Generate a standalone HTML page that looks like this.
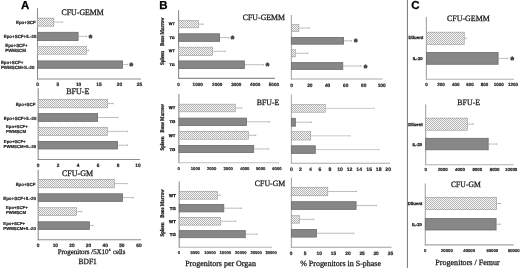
<!DOCTYPE html>
<html><head><meta charset="utf-8"><title>Figure</title>
<style>
html,body{margin:0;padding:0;background:#fff}
svg{display:block}
</style></head>
<body>
<svg width="520" height="268" viewBox="0 0 520 268" text-rendering="geometricPrecision">
<defs>
<filter id="soft" x="0" y="0" width="520" height="268" filterUnits="userSpaceOnUse"><feGaussianBlur stdDeviation="0.35"/></filter>
</defs>
<rect width="520" height="268" fill="#fff"/>
<g filter="url(#soft)">
<text x="25.25" y="9.3" font-family="Liberation Sans,sans-serif" font-size="11.5" font-weight="bold" text-anchor="middle" fill="#000" stroke="#000" stroke-width="0.25">A</text>
<text x="61.5" y="15" textLength="42.30" lengthAdjust="spacingAndGlyphs" font-family="Liberation Serif,serif" font-size="8.3" fill="#1a1a1a" stroke="#1a1a1a" stroke-width="0.27">CFU-GEMM</text>
<path d="M37.5 8.2V79.55" stroke="#8e8e8e" stroke-width="1.1" fill="none"/>
<path d="M36.95 79.0H141" stroke="#8e8e8e" stroke-width="1.1" fill="none"/>
<path d="M54.1 22.1H62.4M62.4 21.30V22.90" stroke="#8a8a8a" stroke-width="0.55" fill="none"/>
<rect x="37.5" y="18.05" width="16.35" height="8.10" fill="#f8f8f8"/>
<rect x="37.5" y="18.05" width="16.35" height="8.10" fill="none" stroke="#a2a2a2" stroke-width="0.6"/>
<path d="M78.5 36.4H86.5M86.5 35.60V37.20" stroke="#8a8a8a" stroke-width="0.55" fill="none"/>
<rect x="37.5" y="32.32" width="40.58" height="8.16" fill="#878787" stroke="#6e6e6e" stroke-width="0.84"/>
<text x="90.6" y="41.00" font-family="Liberation Sans,sans-serif" font-size="9" font-weight="bold" text-anchor="middle" fill="#484848" stroke="#484848" stroke-width="0.75" stroke-linejoin="round">*</text>
<path d="M86.9 50.4H88.6M88.6 49.60V51.20" stroke="#8a8a8a" stroke-width="0.55" fill="none"/>
<rect x="37.5" y="46.55" width="49.15" height="7.70" fill="#f8f8f8"/>
<rect x="37.5" y="46.55" width="49.15" height="7.70" fill="none" stroke="#a2a2a2" stroke-width="0.6"/>
<path d="M122.9 64.6H127.3M127.3 63.80V65.40" stroke="#8a8a8a" stroke-width="0.55" fill="none"/>
<rect x="37.5" y="60.92" width="84.98" height="7.36" fill="#878787" stroke="#6e6e6e" stroke-width="0.84"/>
<text x="131.3" y="69.20" font-family="Liberation Sans,sans-serif" font-size="9" font-weight="bold" text-anchor="middle" fill="#484848" stroke="#484848" stroke-width="0.75" stroke-linejoin="round">*</text>
<text x="37.6" y="86.03" font-family="Liberation Sans,sans-serif" font-size="4.8" font-weight="bold" text-anchor="middle" fill="#1a1a1a" stroke="#1a1a1a" stroke-width="0.18">0</text>
<text x="57.9" y="86.03" font-family="Liberation Sans,sans-serif" font-size="4.8" font-weight="bold" text-anchor="middle" fill="#1a1a1a" stroke="#1a1a1a" stroke-width="0.18">5</text>
<text x="78.6" y="86.03" font-family="Liberation Sans,sans-serif" font-size="4.8" font-weight="bold" text-anchor="middle" fill="#1a1a1a" stroke="#1a1a1a" stroke-width="0.18">10</text>
<text x="99" y="86.03" font-family="Liberation Sans,sans-serif" font-size="4.8" font-weight="bold" text-anchor="middle" fill="#1a1a1a" stroke="#1a1a1a" stroke-width="0.18">15</text>
<text x="119.5" y="86.03" font-family="Liberation Sans,sans-serif" font-size="4.8" font-weight="bold" text-anchor="middle" fill="#1a1a1a" stroke="#1a1a1a" stroke-width="0.18">20</text>
<text x="139.5" y="86.03" font-family="Liberation Sans,sans-serif" font-size="4.8" font-weight="bold" text-anchor="middle" fill="#1a1a1a" stroke="#1a1a1a" stroke-width="0.18">25</text>
<text x="35.8" y="23.80" font-family="Liberation Sans,sans-serif" font-size="4.45" font-weight="bold" text-anchor="end" fill="#1a1a1a" stroke="#1a1a1a" stroke-width="0.18">Epo+SCF</text>
<text x="36.5" y="38.10" font-family="Liberation Sans,sans-serif" font-size="4.45" font-weight="bold" text-anchor="end" fill="#1a1a1a" stroke="#1a1a1a" stroke-width="0.18">Epo+SCF+IL-20</text>
<text x="5.2" y="46.80" font-family="Liberation Sans,sans-serif" font-size="4.45" font-weight="bold" fill="#1a1a1a" stroke="#1a1a1a" stroke-width="0.18">Epo+SCF+</text>
<text x="5.2" y="51.80" font-family="Liberation Sans,sans-serif" font-size="4.45" font-weight="bold" fill="#1a1a1a" stroke="#1a1a1a" stroke-width="0.18">PWMSCM</text>
<text x="0.9" y="64.00" font-family="Liberation Sans,sans-serif" font-size="4.45" font-weight="bold" fill="#1a1a1a" stroke="#1a1a1a" stroke-width="0.18">Epo+SCF+</text>
<text x="0.9" y="68.70" font-family="Liberation Sans,sans-serif" font-size="4.45" font-weight="bold" fill="#1a1a1a" stroke="#1a1a1a" stroke-width="0.18">PWMSCM+IL-20</text>
<text x="66.2" y="94.2" textLength="23.30" lengthAdjust="spacingAndGlyphs" font-family="Liberation Serif,serif" font-size="8.3" fill="#1a1a1a" stroke="#1a1a1a" stroke-width="0.27">BFU-E</text>
<path d="M38.2 88.2V160.05" stroke="#8e8e8e" stroke-width="1.1" fill="none"/>
<path d="M37.650000000000006 159.5H140" stroke="#8e8e8e" stroke-width="1.1" fill="none"/>
<path d="M107.8 103.55H113M113 102.75V104.35" stroke="#8a8a8a" stroke-width="0.55" fill="none"/>
<rect x="38.2" y="99.25" width="69.35" height="8.60" fill="#f8f8f8"/>
<rect x="38.2" y="99.25" width="69.35" height="8.60" fill="none" stroke="#a2a2a2" stroke-width="0.6"/>
<path d="M98 117.5H117.9M117.9 116.70V118.30" stroke="#8a8a8a" stroke-width="0.55" fill="none"/>
<rect x="38.2" y="113.62" width="59.38" height="7.76" fill="#878787" stroke="#6e6e6e" stroke-width="0.84"/>
<path d="M107.8 131.4H127.4M127.4 130.60V132.20" stroke="#8a8a8a" stroke-width="0.55" fill="none"/>
<rect x="38.2" y="127.25" width="69.35" height="8.30" fill="#f8f8f8"/>
<rect x="38.2" y="127.25" width="69.35" height="8.30" fill="none" stroke="#a2a2a2" stroke-width="0.6"/>
<path d="M117.9 145.2H127.4M127.4 144.40V146.00" stroke="#8a8a8a" stroke-width="0.55" fill="none"/>
<rect x="38.2" y="141.42" width="79.28" height="7.56" fill="#878787" stroke="#6e6e6e" stroke-width="0.84"/>
<text x="38" y="166.53" font-family="Liberation Sans,sans-serif" font-size="4.8" font-weight="bold" text-anchor="middle" fill="#1a1a1a" stroke="#1a1a1a" stroke-width="0.18">0</text>
<text x="58.1" y="166.53" font-family="Liberation Sans,sans-serif" font-size="4.8" font-weight="bold" text-anchor="middle" fill="#1a1a1a" stroke="#1a1a1a" stroke-width="0.18">2</text>
<text x="78" y="166.53" font-family="Liberation Sans,sans-serif" font-size="4.8" font-weight="bold" text-anchor="middle" fill="#1a1a1a" stroke="#1a1a1a" stroke-width="0.18">4</text>
<text x="98" y="166.53" font-family="Liberation Sans,sans-serif" font-size="4.8" font-weight="bold" text-anchor="middle" fill="#1a1a1a" stroke="#1a1a1a" stroke-width="0.18">6</text>
<text x="118" y="166.53" font-family="Liberation Sans,sans-serif" font-size="4.8" font-weight="bold" text-anchor="middle" fill="#1a1a1a" stroke="#1a1a1a" stroke-width="0.18">8</text>
<text x="138" y="166.53" font-family="Liberation Sans,sans-serif" font-size="4.8" font-weight="bold" text-anchor="middle" fill="#1a1a1a" stroke="#1a1a1a" stroke-width="0.18">10</text>
<text x="35.5" y="105.60" font-family="Liberation Sans,sans-serif" font-size="4.45" font-weight="bold" text-anchor="end" fill="#1a1a1a" stroke="#1a1a1a" stroke-width="0.18">Epo+SCF</text>
<text x="36.5" y="119.50" font-family="Liberation Sans,sans-serif" font-size="4.45" font-weight="bold" text-anchor="end" fill="#1a1a1a" stroke="#1a1a1a" stroke-width="0.18">Epo+SCF+IL-20</text>
<text x="6" y="128.35" font-family="Liberation Sans,sans-serif" font-size="4.3" font-weight="bold" fill="#1a1a1a" stroke="#1a1a1a" stroke-width="0.18">Epo+SCF+</text>
<text x="6" y="132.95" font-family="Liberation Sans,sans-serif" font-size="4.3" font-weight="bold" fill="#1a1a1a" stroke="#1a1a1a" stroke-width="0.18">PWMSCM</text>
<text x="3.8" y="143.05" font-family="Liberation Sans,sans-serif" font-size="4.3" font-weight="bold" fill="#1a1a1a" stroke="#1a1a1a" stroke-width="0.18">Epo+SCF+</text>
<text x="3.6" y="147.85" font-family="Liberation Sans,sans-serif" font-size="4.3" font-weight="bold" fill="#1a1a1a" stroke="#1a1a1a" stroke-width="0.18">PWMSCM+IL-20</text>
<text x="62" y="176.1" textLength="31.00" lengthAdjust="spacingAndGlyphs" font-family="Liberation Serif,serif" font-size="8.3" fill="#1a1a1a" stroke="#1a1a1a" stroke-width="0.27">CFU-GM</text>
<path d="M38.2 169.8V240.35000000000002" stroke="#8e8e8e" stroke-width="1.1" fill="none"/>
<path d="M37.650000000000006 239.8H141" stroke="#8e8e8e" stroke-width="1.1" fill="none"/>
<path d="M114.8 183.6H127.1M127.1 182.80V184.40" stroke="#8a8a8a" stroke-width="0.55" fill="none"/>
<rect x="38.2" y="179.35" width="76.35" height="8.50" fill="#f8f8f8"/>
<rect x="38.2" y="179.35" width="76.35" height="8.50" fill="none" stroke="#a2a2a2" stroke-width="0.6"/>
<path d="M122.9 197.60000000000002H133.3M133.3 196.80V198.40" stroke="#8a8a8a" stroke-width="0.55" fill="none"/>
<rect x="38.2" y="193.82" width="84.28" height="7.56" fill="#878787" stroke="#6e6e6e" stroke-width="0.84"/>
<path d="M76.9 211.60000000000002H81.9M81.9 210.80V212.40" stroke="#8a8a8a" stroke-width="0.55" fill="none"/>
<rect x="38.2" y="207.65" width="38.45" height="7.90" fill="#f8f8f8"/>
<rect x="38.2" y="207.65" width="38.45" height="7.90" fill="none" stroke="#a2a2a2" stroke-width="0.6"/>
<path d="M89.8 225.60000000000002H93.1M93.1 224.80V226.40" stroke="#8a8a8a" stroke-width="0.55" fill="none"/>
<rect x="38.2" y="221.82" width="51.18" height="7.56" fill="#878787" stroke="#6e6e6e" stroke-width="0.84"/>
<text x="38.1" y="246.73" font-family="Liberation Sans,sans-serif" font-size="4.8" font-weight="bold" text-anchor="middle" fill="#1a1a1a" stroke="#1a1a1a" stroke-width="0.18">0</text>
<text x="55.3" y="246.73" font-family="Liberation Sans,sans-serif" font-size="4.8" font-weight="bold" text-anchor="middle" fill="#1a1a1a" stroke="#1a1a1a" stroke-width="0.18">10</text>
<text x="72" y="246.73" font-family="Liberation Sans,sans-serif" font-size="4.8" font-weight="bold" text-anchor="middle" fill="#1a1a1a" stroke="#1a1a1a" stroke-width="0.18">20</text>
<text x="88.5" y="246.73" font-family="Liberation Sans,sans-serif" font-size="4.8" font-weight="bold" text-anchor="middle" fill="#1a1a1a" stroke="#1a1a1a" stroke-width="0.18">30</text>
<text x="105.2" y="246.73" font-family="Liberation Sans,sans-serif" font-size="4.8" font-weight="bold" text-anchor="middle" fill="#1a1a1a" stroke="#1a1a1a" stroke-width="0.18">40</text>
<text x="121.8" y="246.73" font-family="Liberation Sans,sans-serif" font-size="4.8" font-weight="bold" text-anchor="middle" fill="#1a1a1a" stroke="#1a1a1a" stroke-width="0.18">50</text>
<text x="139" y="246.73" font-family="Liberation Sans,sans-serif" font-size="4.8" font-weight="bold" text-anchor="middle" fill="#1a1a1a" stroke="#1a1a1a" stroke-width="0.18">60</text>
<text x="35.5" y="185.60" font-family="Liberation Sans,sans-serif" font-size="4.45" font-weight="bold" text-anchor="end" fill="#1a1a1a" stroke="#1a1a1a" stroke-width="0.18">Epo+SCF</text>
<text x="36" y="199.60" font-family="Liberation Sans,sans-serif" font-size="4.45" font-weight="bold" text-anchor="end" fill="#1a1a1a" stroke="#1a1a1a" stroke-width="0.18">Epo+SCF+IL-20</text>
<text x="6" y="208.55" font-family="Liberation Sans,sans-serif" font-size="4.3" font-weight="bold" fill="#1a1a1a" stroke="#1a1a1a" stroke-width="0.18">Epo+SCF+</text>
<text x="6" y="213.65" font-family="Liberation Sans,sans-serif" font-size="4.3" font-weight="bold" fill="#1a1a1a" stroke="#1a1a1a" stroke-width="0.18">PWMSCM</text>
<text x="3.3" y="224.65" font-family="Liberation Sans,sans-serif" font-size="4.3" font-weight="bold" fill="#1a1a1a" stroke="#1a1a1a" stroke-width="0.18">Epo+SCF+</text>
<text x="3.3" y="229.55" font-family="Liberation Sans,sans-serif" font-size="4.3" font-weight="bold" fill="#1a1a1a" stroke="#1a1a1a" stroke-width="0.18">PWMSCM+IL-20</text>
<text x="57.7" y="254.2" textLength="50.80" lengthAdjust="spacingAndGlyphs" font-family="Liberation Serif,serif" font-size="7" fill="#1a1a1a" stroke="#1a1a1a" stroke-width="0.27">Progenitors /5X10</text>
<text x="108.8" y="251.4" textLength="1.70" lengthAdjust="spacingAndGlyphs" font-family="Liberation Serif,serif" font-size="3.6" fill="#1a1a1a" stroke="#1a1a1a" stroke-width="0.27">4</text>
<text x="113" y="254.2" textLength="12.30" lengthAdjust="spacingAndGlyphs" font-family="Liberation Serif,serif" font-size="7" fill="#1a1a1a" stroke="#1a1a1a" stroke-width="0.27">cells</text>
<text x="78.6" y="263.6" textLength="18.20" lengthAdjust="spacingAndGlyphs" font-family="Liberation Serif,serif" font-size="8" fill="#1a1a1a" stroke="#1a1a1a" stroke-width="0.27">BDF1</text>
<text x="163.4" y="8.5" font-family="Liberation Sans,sans-serif" font-size="11.5" font-weight="bold" text-anchor="middle" fill="#000" stroke="#000" stroke-width="0.25">B</text>
<text x="242.8" y="20" textLength="42.20" lengthAdjust="spacingAndGlyphs" font-family="Liberation Serif,serif" font-size="8.2" fill="#1a1a1a" stroke="#1a1a1a" stroke-width="0.27">CFU-GEMM</text>
<path d="M178.6 10.3V78.95" stroke="#8e8e8e" stroke-width="1.1" fill="none"/>
<path d="M178.04999999999998 78.4H275" stroke="#8e8e8e" stroke-width="1.1" fill="none"/>
<path d="M198.6 24.200000000000003H203M203 23.40V25.00" stroke="#8a8a8a" stroke-width="0.55" fill="none"/>
<rect x="178.6" y="20.55" width="19.75" height="7.30" fill="#f8f8f8"/>
<rect x="178.6" y="20.55" width="19.75" height="7.30" fill="none" stroke="#a2a2a2" stroke-width="0.6"/>
<path d="M220 37.599999999999994H228.6M228.6 36.80V38.40" stroke="#8a8a8a" stroke-width="0.55" fill="none"/>
<rect x="178.6" y="33.82" width="40.98" height="7.56" fill="#878787" stroke="#6e6e6e" stroke-width="0.84"/>
<text x="232.6" y="42.20" font-family="Liberation Sans,sans-serif" font-size="9" font-weight="bold" text-anchor="middle" fill="#484848" stroke="#484848" stroke-width="0.75" stroke-linejoin="round">*</text>
<path d="M212.9 51.3H225.4M225.4 50.50V52.10" stroke="#8a8a8a" stroke-width="0.55" fill="none"/>
<rect x="178.6" y="47.15" width="34.05" height="8.30" fill="#f8f8f8"/>
<rect x="178.6" y="47.15" width="34.05" height="8.30" fill="none" stroke="#a2a2a2" stroke-width="0.6"/>
<path d="M244.8 64.7H263.4M263.4 63.90V65.50" stroke="#8a8a8a" stroke-width="0.55" fill="none"/>
<rect x="178.6" y="60.92" width="65.78" height="7.56" fill="#878787" stroke="#6e6e6e" stroke-width="0.84"/>
<text x="267.4" y="69.30" font-family="Liberation Sans,sans-serif" font-size="9" font-weight="bold" text-anchor="middle" fill="#484848" stroke="#484848" stroke-width="0.75" stroke-linejoin="round">*</text>
<text x="178.5" y="86.16" font-family="Liberation Sans,sans-serif" font-size="4.6" font-weight="bold" text-anchor="middle" fill="#1a1a1a" stroke="#1a1a1a" stroke-width="0.18">0</text>
<text x="197.7" y="86.16" font-family="Liberation Sans,sans-serif" font-size="4.6" font-weight="bold" text-anchor="middle" fill="#1a1a1a" stroke="#1a1a1a" stroke-width="0.18">1000</text>
<text x="217.2" y="86.16" font-family="Liberation Sans,sans-serif" font-size="4.6" font-weight="bold" text-anchor="middle" fill="#1a1a1a" stroke="#1a1a1a" stroke-width="0.18">2000</text>
<text x="236.3" y="86.16" font-family="Liberation Sans,sans-serif" font-size="4.6" font-weight="bold" text-anchor="middle" fill="#1a1a1a" stroke="#1a1a1a" stroke-width="0.18">3000</text>
<text x="255.2" y="86.16" font-family="Liberation Sans,sans-serif" font-size="4.6" font-weight="bold" text-anchor="middle" fill="#1a1a1a" stroke="#1a1a1a" stroke-width="0.18">4000</text>
<text x="273.9" y="86.16" font-family="Liberation Sans,sans-serif" font-size="4.6" font-weight="bold" text-anchor="middle" fill="#1a1a1a" stroke="#1a1a1a" stroke-width="0.18">5000</text>
<text x="174.7" y="25.35" font-family="Liberation Sans,sans-serif" font-size="3.75" font-weight="bold" text-anchor="end" fill="#1a1a1a" stroke="#1a1a1a" stroke-width="0.3">WT</text>
<text x="174.7" y="39.05" font-family="Liberation Sans,sans-serif" font-size="3.75" font-weight="bold" text-anchor="end" fill="#1a1a1a" stroke="#1a1a1a" stroke-width="0.3">TG</text>
<text x="174.7" y="52.15" font-family="Liberation Sans,sans-serif" font-size="3.75" font-weight="bold" text-anchor="end" fill="#1a1a1a" stroke="#1a1a1a" stroke-width="0.3">WT</text>
<text x="174.7" y="65.95" font-family="Liberation Sans,sans-serif" font-size="3.75" font-weight="bold" text-anchor="end" fill="#1a1a1a" stroke="#1a1a1a" stroke-width="0.3">TG</text>
<text transform="translate(163.98 46.05) rotate(-90)" textLength="28.5" lengthAdjust="spacingAndGlyphs" font-family="Liberation Serif,serif" font-size="5.7" font-weight="bold" fill="#1a1a1a" stroke="#1a1a1a" stroke-width="0.28">Bone Marrow</text>
<text transform="translate(163.98 65.00) rotate(-90)" textLength="14" lengthAdjust="spacingAndGlyphs" font-family="Liberation Serif,serif" font-size="5.7" font-weight="bold" fill="#1a1a1a" stroke="#1a1a1a" stroke-width="0.28">Spleen</text>
<text x="256.7" y="104.5" textLength="22.60" lengthAdjust="spacingAndGlyphs" font-family="Liberation Serif,serif" font-size="8.2" fill="#1a1a1a" stroke="#1a1a1a" stroke-width="0.27">BFU-E</text>
<path d="M178.9 93.9V163.35000000000002" stroke="#8e8e8e" stroke-width="1.1" fill="none"/>
<path d="M178.35 162.8H279" stroke="#c4c4c4" stroke-width="1.1" fill="none"/>
<path d="M235.6 108.0H241.8M241.8 107.20V108.80" stroke="#8a8a8a" stroke-width="0.55" fill="none"/>
<rect x="178.9" y="104.15" width="56.45" height="7.70" fill="#f8f8f8"/>
<rect x="178.9" y="104.15" width="56.45" height="7.70" fill="none" stroke="#a2a2a2" stroke-width="0.6"/>
<path d="M246.9 121.80000000000001H269.5M269.5 121.00V122.60" stroke="#8a8a8a" stroke-width="0.55" fill="none"/>
<rect x="178.9" y="118.12" width="67.58" height="7.36" fill="#878787" stroke="#6e6e6e" stroke-width="0.84"/>
<path d="M248.6 135.3H255.8M255.8 134.50V136.10" stroke="#8a8a8a" stroke-width="0.55" fill="none"/>
<rect x="178.9" y="131.35" width="69.45" height="7.90" fill="#f8f8f8"/>
<rect x="178.9" y="131.35" width="69.45" height="7.90" fill="none" stroke="#a2a2a2" stroke-width="0.6"/>
<path d="M254.1 148.95H268.7M268.7 148.15V149.75" stroke="#8a8a8a" stroke-width="0.55" fill="none"/>
<rect x="178.9" y="145.42" width="74.78" height="7.06" fill="#878787" stroke="#6e6e6e" stroke-width="0.84"/>
<text x="178.7" y="170.01" font-family="Liberation Sans,sans-serif" font-size="4.2" font-weight="bold" text-anchor="middle" fill="#1a1a1a" stroke="#1a1a1a" stroke-width="0.18">0</text>
<text x="195.4" y="170.01" font-family="Liberation Sans,sans-serif" font-size="4.2" font-weight="bold" text-anchor="middle" fill="#1a1a1a" stroke="#1a1a1a" stroke-width="0.18">1000</text>
<text x="211.6" y="170.01" font-family="Liberation Sans,sans-serif" font-size="4.2" font-weight="bold" text-anchor="middle" fill="#1a1a1a" stroke="#1a1a1a" stroke-width="0.18">2000</text>
<text x="228.2" y="170.01" font-family="Liberation Sans,sans-serif" font-size="4.2" font-weight="bold" text-anchor="middle" fill="#1a1a1a" stroke="#1a1a1a" stroke-width="0.18">3000</text>
<text x="244.8" y="170.01" font-family="Liberation Sans,sans-serif" font-size="4.2" font-weight="bold" text-anchor="middle" fill="#1a1a1a" stroke="#1a1a1a" stroke-width="0.18">4000</text>
<text x="260.7" y="170.01" font-family="Liberation Sans,sans-serif" font-size="4.2" font-weight="bold" text-anchor="middle" fill="#1a1a1a" stroke="#1a1a1a" stroke-width="0.18">5000</text>
<text x="276.9" y="170.01" font-family="Liberation Sans,sans-serif" font-size="4.2" font-weight="bold" text-anchor="middle" fill="#1a1a1a" stroke="#1a1a1a" stroke-width="0.18">6000</text>
<text x="175.3" y="109.41" font-family="Liberation Sans,sans-serif" font-size="4.2" font-weight="bold" text-anchor="end" fill="#1a1a1a" stroke="#1a1a1a" stroke-width="0.3">WT</text>
<text x="175.3" y="123.21" font-family="Liberation Sans,sans-serif" font-size="4.2" font-weight="bold" text-anchor="end" fill="#1a1a1a" stroke="#1a1a1a" stroke-width="0.3">TG</text>
<text x="175.3" y="136.61" font-family="Liberation Sans,sans-serif" font-size="4.2" font-weight="bold" text-anchor="end" fill="#1a1a1a" stroke="#1a1a1a" stroke-width="0.3">WT</text>
<text x="175.3" y="150.51" font-family="Liberation Sans,sans-serif" font-size="4.2" font-weight="bold" text-anchor="end" fill="#1a1a1a" stroke="#1a1a1a" stroke-width="0.3">TG</text>
<text transform="translate(163.98 132.45) rotate(-90)" textLength="28.5" lengthAdjust="spacingAndGlyphs" font-family="Liberation Serif,serif" font-size="5.7" font-weight="bold" fill="#1a1a1a" stroke="#1a1a1a" stroke-width="0.28">Bone Marrow</text>
<text transform="translate(163.98 150.60) rotate(-90)" textLength="14" lengthAdjust="spacingAndGlyphs" font-family="Liberation Serif,serif" font-size="5.7" font-weight="bold" fill="#1a1a1a" stroke="#1a1a1a" stroke-width="0.28">Spleen</text>
<text x="254.8" y="186.2" textLength="30.50" lengthAdjust="spacingAndGlyphs" font-family="Liberation Serif,serif" font-size="8.2" fill="#1a1a1a" stroke="#1a1a1a" stroke-width="0.27">CFU-GM</text>
<path d="M179.2 181.4V247.85000000000002" stroke="#8e8e8e" stroke-width="1.1" fill="none"/>
<path d="M178.64999999999998 247.3H272" stroke="#b4b4b4" stroke-width="1.1" fill="none"/>
<path d="M217.7 195.2H220.3M220.3 194.40V196.00" stroke="#8a8a8a" stroke-width="0.55" fill="none"/>
<rect x="179.2" y="191.25" width="38.25" height="7.90" fill="#f8f8f8"/>
<rect x="179.2" y="191.25" width="38.25" height="7.90" fill="none" stroke="#a2a2a2" stroke-width="0.6"/>
<path d="M224.2 208.2H241.4M241.4 207.40V209.00" stroke="#8a8a8a" stroke-width="0.55" fill="none"/>
<rect x="179.2" y="204.52" width="44.58" height="7.36" fill="#878787" stroke="#6e6e6e" stroke-width="0.84"/>
<path d="M220.8 221.25H235.7M235.7 220.45V222.05" stroke="#8a8a8a" stroke-width="0.55" fill="none"/>
<rect x="179.2" y="217.35" width="41.35" height="7.80" fill="#f8f8f8"/>
<rect x="179.2" y="217.35" width="41.35" height="7.80" fill="none" stroke="#a2a2a2" stroke-width="0.6"/>
<path d="M245.7 234.14999999999998H257M257 233.35V234.95" stroke="#8a8a8a" stroke-width="0.55" fill="none"/>
<rect x="179.2" y="230.62" width="66.08" height="7.06" fill="#878787" stroke="#6e6e6e" stroke-width="0.84"/>
<text x="178.8" y="253.88" font-family="Liberation Sans,sans-serif" font-size="4.1" font-weight="bold" text-anchor="middle" fill="#1a1a1a" stroke="#1a1a1a" stroke-width="0.18">0</text>
<text x="195" y="253.88" font-family="Liberation Sans,sans-serif" font-size="4.1" font-weight="bold" text-anchor="middle" fill="#1a1a1a" stroke="#1a1a1a" stroke-width="0.18">5000</text>
<text x="210" y="253.88" font-family="Liberation Sans,sans-serif" font-size="4.1" font-weight="bold" text-anchor="middle" fill="#1a1a1a" stroke="#1a1a1a" stroke-width="0.18">10000</text>
<text x="225.3" y="253.88" font-family="Liberation Sans,sans-serif" font-size="4.1" font-weight="bold" text-anchor="middle" fill="#1a1a1a" stroke="#1a1a1a" stroke-width="0.18">15000</text>
<text x="240.8" y="253.88" font-family="Liberation Sans,sans-serif" font-size="4.1" font-weight="bold" text-anchor="middle" fill="#1a1a1a" stroke="#1a1a1a" stroke-width="0.18">20000</text>
<text x="256.2" y="253.88" font-family="Liberation Sans,sans-serif" font-size="4.1" font-weight="bold" text-anchor="middle" fill="#1a1a1a" stroke="#1a1a1a" stroke-width="0.18">25000</text>
<text x="271.2" y="253.88" font-family="Liberation Sans,sans-serif" font-size="4.1" font-weight="bold" text-anchor="middle" fill="#1a1a1a" stroke="#1a1a1a" stroke-width="0.18">30000</text>
<text x="175.8" y="196.65" font-family="Liberation Sans,sans-serif" font-size="4.3" font-weight="bold" text-anchor="end" fill="#1a1a1a" stroke="#1a1a1a" stroke-width="0.3">WT</text>
<text x="175.8" y="209.75" font-family="Liberation Sans,sans-serif" font-size="4.3" font-weight="bold" text-anchor="end" fill="#1a1a1a" stroke="#1a1a1a" stroke-width="0.3">TG</text>
<text x="175.8" y="223.15" font-family="Liberation Sans,sans-serif" font-size="4.3" font-weight="bold" text-anchor="end" fill="#1a1a1a" stroke="#1a1a1a" stroke-width="0.3">WT</text>
<text x="175.8" y="236.25" font-family="Liberation Sans,sans-serif" font-size="4.3" font-weight="bold" text-anchor="end" fill="#1a1a1a" stroke="#1a1a1a" stroke-width="0.3">TG</text>
<text transform="translate(163.98 217.75) rotate(-90)" textLength="28.5" lengthAdjust="spacingAndGlyphs" font-family="Liberation Serif,serif" font-size="5.7" font-weight="bold" fill="#1a1a1a" stroke="#1a1a1a" stroke-width="0.28">Bone Marrow</text>
<text transform="translate(163.98 236.50) rotate(-90)" textLength="14" lengthAdjust="spacingAndGlyphs" font-family="Liberation Serif,serif" font-size="5.7" font-weight="bold" fill="#1a1a1a" stroke="#1a1a1a" stroke-width="0.28">Spleen</text>
<text x="185.2" y="265.8" textLength="70.70" lengthAdjust="spacingAndGlyphs" font-family="Liberation Serif,serif" font-size="8" fill="#1a1a1a" stroke="#1a1a1a" stroke-width="0.27">Progenitors per Organ</text>
<path d="M291.4 14.9V79.55" stroke="#a8a8a8" stroke-width="1.1" fill="none"/>
<path d="M290.84999999999997 79.0H382.5" stroke="#a8a8a8" stroke-width="1.1" fill="none"/>
<path d="M299.2 28.05H309.3M309.3 27.25V28.85" stroke="#8a8a8a" stroke-width="0.55" fill="none"/>
<rect x="291.4" y="24.55" width="7.55" height="7.00" fill="#f8f8f8"/>
<rect x="291.4" y="24.55" width="7.55" height="7.00" fill="none" stroke="#a2a2a2" stroke-width="0.6"/>
<path d="M344 40.8H351.4M351.4 40.00V41.60" stroke="#8a8a8a" stroke-width="0.55" fill="none"/>
<rect x="291.4" y="37.42" width="52.18" height="6.76" fill="#878787" stroke="#6e6e6e" stroke-width="0.84"/>
<text x="355.7" y="45.40" font-family="Liberation Sans,sans-serif" font-size="9" font-weight="bold" text-anchor="middle" fill="#484848" stroke="#484848" stroke-width="0.75" stroke-linejoin="round">*</text>
<path d="M295.6 53.3H307.8M307.8 52.50V54.10" stroke="#8a8a8a" stroke-width="0.55" fill="none"/>
<rect x="291.4" y="49.65" width="3.95" height="7.30" fill="#f8f8f8"/>
<rect x="291.4" y="49.65" width="3.95" height="7.30" fill="none" stroke="#a2a2a2" stroke-width="0.6"/>
<path d="M343.2 66.0H360.7M360.7 65.20V66.80" stroke="#8a8a8a" stroke-width="0.55" fill="none"/>
<rect x="291.4" y="62.62" width="51.38" height="6.76" fill="#878787" stroke="#6e6e6e" stroke-width="0.84"/>
<text x="365.6" y="70.60" font-family="Liberation Sans,sans-serif" font-size="9" font-weight="bold" text-anchor="middle" fill="#484848" stroke="#484848" stroke-width="0.75" stroke-linejoin="round">*</text>
<text x="291.6" y="86.53" font-family="Liberation Sans,sans-serif" font-size="4.8" font-weight="bold" text-anchor="middle" fill="#1a1a1a" stroke="#1a1a1a" stroke-width="0.18">0</text>
<text x="309.8" y="86.53" font-family="Liberation Sans,sans-serif" font-size="4.8" font-weight="bold" text-anchor="middle" fill="#1a1a1a" stroke="#1a1a1a" stroke-width="0.18">20</text>
<text x="327.6" y="86.53" font-family="Liberation Sans,sans-serif" font-size="4.8" font-weight="bold" text-anchor="middle" fill="#1a1a1a" stroke="#1a1a1a" stroke-width="0.18">40</text>
<text x="345.7" y="86.53" font-family="Liberation Sans,sans-serif" font-size="4.8" font-weight="bold" text-anchor="middle" fill="#1a1a1a" stroke="#1a1a1a" stroke-width="0.18">60</text>
<text x="363.7" y="86.53" font-family="Liberation Sans,sans-serif" font-size="4.8" font-weight="bold" text-anchor="middle" fill="#1a1a1a" stroke="#1a1a1a" stroke-width="0.18">80</text>
<text x="381.7" y="86.53" font-family="Liberation Sans,sans-serif" font-size="4.8" font-weight="bold" text-anchor="middle" fill="#1a1a1a" stroke="#1a1a1a" stroke-width="0.18">100</text>
<path d="M291.4 94.6V163.85000000000002" stroke="#b0b0b0" stroke-width="1.1" fill="none"/>
<path d="M290.84999999999997 163.3H390" stroke="#a8a8a8" stroke-width="1.1" fill="none"/>
<path d="M325.5 108.4H374.1M374.1 107.60V109.20" stroke="#c4c4c4" stroke-width="0.9" fill="none"/>
<rect x="291.4" y="104.55" width="33.85" height="7.70" fill="#f8f8f8"/>
<rect x="291.4" y="104.55" width="33.85" height="7.70" fill="none" stroke="#a2a2a2" stroke-width="0.6"/>
<path d="M295.8 122.25H311.4M311.4 121.45V123.05" stroke="#8a8a8a" stroke-width="0.55" fill="none"/>
<rect x="291.4" y="118.32" width="3.98" height="7.86" fill="#878787" stroke="#6e6e6e" stroke-width="0.84"/>
<path d="M311 135.85000000000002H350M350 135.05V136.65" stroke="#c4c4c4" stroke-width="0.9" fill="none"/>
<rect x="291.4" y="131.65" width="19.35" height="8.40" fill="#f8f8f8"/>
<rect x="291.4" y="131.65" width="19.35" height="8.40" fill="none" stroke="#a2a2a2" stroke-width="0.6"/>
<path d="M315.7 149.60000000000002H379.2M379.2 148.80V150.40" stroke="#c4c4c4" stroke-width="0.9" fill="none"/>
<rect x="291.4" y="145.82" width="23.88" height="7.56" fill="#878787" stroke="#6e6e6e" stroke-width="0.84"/>
<text x="291.4" y="171.14" font-family="Liberation Sans,sans-serif" font-size="5.1" font-weight="bold" text-anchor="middle" fill="#1a1a1a" stroke="#1a1a1a" stroke-width="0.18">0</text>
<text x="300.5" y="171.14" font-family="Liberation Sans,sans-serif" font-size="5.1" font-weight="bold" text-anchor="middle" fill="#1a1a1a" stroke="#1a1a1a" stroke-width="0.18">2</text>
<text x="310.5" y="171.14" font-family="Liberation Sans,sans-serif" font-size="5.1" font-weight="bold" text-anchor="middle" fill="#1a1a1a" stroke="#1a1a1a" stroke-width="0.18">4</text>
<text x="320" y="171.14" font-family="Liberation Sans,sans-serif" font-size="5.1" font-weight="bold" text-anchor="middle" fill="#1a1a1a" stroke="#1a1a1a" stroke-width="0.18">6</text>
<text x="330" y="171.14" font-family="Liberation Sans,sans-serif" font-size="5.1" font-weight="bold" text-anchor="middle" fill="#1a1a1a" stroke="#1a1a1a" stroke-width="0.18">8</text>
<text x="340" y="171.14" font-family="Liberation Sans,sans-serif" font-size="5.1" font-weight="bold" text-anchor="middle" fill="#1a1a1a" stroke="#1a1a1a" stroke-width="0.18">10</text>
<text x="349.5" y="171.14" font-family="Liberation Sans,sans-serif" font-size="5.1" font-weight="bold" text-anchor="middle" fill="#1a1a1a" stroke="#1a1a1a" stroke-width="0.18">12</text>
<text x="359.2" y="171.14" font-family="Liberation Sans,sans-serif" font-size="5.1" font-weight="bold" text-anchor="middle" fill="#1a1a1a" stroke="#1a1a1a" stroke-width="0.18">14</text>
<text x="369.2" y="171.14" font-family="Liberation Sans,sans-serif" font-size="5.1" font-weight="bold" text-anchor="middle" fill="#1a1a1a" stroke="#1a1a1a" stroke-width="0.18">16</text>
<text x="378.7" y="171.14" font-family="Liberation Sans,sans-serif" font-size="5.1" font-weight="bold" text-anchor="middle" fill="#1a1a1a" stroke="#1a1a1a" stroke-width="0.18">18</text>
<text x="388.2" y="171.14" font-family="Liberation Sans,sans-serif" font-size="5.1" font-weight="bold" text-anchor="middle" fill="#1a1a1a" stroke="#1a1a1a" stroke-width="0.18">20</text>
<path d="M291.4 177.6V247.85000000000002" stroke="#a8a8a8" stroke-width="1.1" fill="none"/>
<path d="M290.84999999999997 247.3H391.5" stroke="#a0a0a0" stroke-width="1.1" fill="none"/>
<path d="M328.1 191.5H356.5M356.5 190.70V192.30" stroke="#8a8a8a" stroke-width="0.55" fill="none"/>
<rect x="291.4" y="187.25" width="36.45" height="8.50" fill="#f8f8f8"/>
<rect x="291.4" y="187.25" width="36.45" height="8.50" fill="none" stroke="#a2a2a2" stroke-width="0.6"/>
<path d="M356.5 205.55H376.4M376.4 204.75V206.35" stroke="#8a8a8a" stroke-width="0.55" fill="none"/>
<rect x="291.4" y="201.72" width="64.68" height="7.66" fill="#878787" stroke="#6e6e6e" stroke-width="0.84"/>
<path d="M299.8 219.4H313.8M313.8 218.60V220.20" stroke="#8a8a8a" stroke-width="0.55" fill="none"/>
<rect x="291.4" y="215.65" width="8.15" height="7.50" fill="#f8f8f8"/>
<rect x="291.4" y="215.65" width="8.15" height="7.50" fill="none" stroke="#a2a2a2" stroke-width="0.6"/>
<path d="M316.9 233.25H353.6M353.6 232.45V234.05" stroke="#8a8a8a" stroke-width="0.55" fill="none"/>
<rect x="291.4" y="229.42" width="25.08" height="7.66" fill="#878787" stroke="#6e6e6e" stroke-width="0.84"/>
<text x="291.1" y="254.93" font-family="Liberation Sans,sans-serif" font-size="4.8" font-weight="bold" text-anchor="middle" fill="#1a1a1a" stroke="#1a1a1a" stroke-width="0.18">0</text>
<text x="305.2" y="254.93" font-family="Liberation Sans,sans-serif" font-size="4.8" font-weight="bold" text-anchor="middle" fill="#1a1a1a" stroke="#1a1a1a" stroke-width="0.18">5</text>
<text x="319.2" y="254.93" font-family="Liberation Sans,sans-serif" font-size="4.8" font-weight="bold" text-anchor="middle" fill="#1a1a1a" stroke="#1a1a1a" stroke-width="0.18">10</text>
<text x="333.5" y="254.93" font-family="Liberation Sans,sans-serif" font-size="4.8" font-weight="bold" text-anchor="middle" fill="#1a1a1a" stroke="#1a1a1a" stroke-width="0.18">15</text>
<text x="348" y="254.93" font-family="Liberation Sans,sans-serif" font-size="4.8" font-weight="bold" text-anchor="middle" fill="#1a1a1a" stroke="#1a1a1a" stroke-width="0.18">20</text>
<text x="362.1" y="254.93" font-family="Liberation Sans,sans-serif" font-size="4.8" font-weight="bold" text-anchor="middle" fill="#1a1a1a" stroke="#1a1a1a" stroke-width="0.18">25</text>
<text x="376.1" y="254.93" font-family="Liberation Sans,sans-serif" font-size="4.8" font-weight="bold" text-anchor="middle" fill="#1a1a1a" stroke="#1a1a1a" stroke-width="0.18">30</text>
<text x="390.4" y="254.93" font-family="Liberation Sans,sans-serif" font-size="4.8" font-weight="bold" text-anchor="middle" fill="#1a1a1a" stroke="#1a1a1a" stroke-width="0.18">35</text>
<text x="300.2" y="266" textLength="80.80" lengthAdjust="spacingAndGlyphs" font-family="Liberation Serif,serif" font-size="8" fill="#1a1a1a" stroke="#1a1a1a" stroke-width="0.27">% Progenitors in S-phase</text>
<path d="M407.4 0V268" stroke="#555" stroke-width="0.8"/>
<text x="415.3" y="9.3" font-family="Liberation Sans,sans-serif" font-size="11.5" font-weight="bold" text-anchor="middle" fill="#000" stroke="#000" stroke-width="0.25">C</text>
<text x="447" y="20.6" textLength="42.80" lengthAdjust="spacingAndGlyphs" font-family="Liberation Serif,serif" font-size="8.2" fill="#1a1a1a" stroke="#1a1a1a" stroke-width="0.27">CFU-GEMM</text>
<path d="M426.4 17V79.75" stroke="#a4a4a4" stroke-width="1.1" fill="none"/>
<path d="M425.84999999999997 79.2H514" stroke="#b0b0b0" stroke-width="1.1" fill="none"/>
<path d="M464.5 38.349999999999994H466M466 37.55V39.15" stroke="#8a8a8a" stroke-width="0.55" fill="none"/>
<rect x="426.4" y="32.15" width="37.85" height="12.40" fill="#f8f8f8"/>
<rect x="426.4" y="32.15" width="37.85" height="12.40" fill="none" stroke="#a2a2a2" stroke-width="0.6"/>
<path d="M498.5 58.400000000000006H507.6M507.6 57.60V59.20" stroke="#8a8a8a" stroke-width="0.55" fill="none"/>
<rect x="426.4" y="52.52" width="71.68" height="11.76" fill="#878787" stroke="#6e6e6e" stroke-width="0.84"/>
<text x="512.2" y="63.00" font-family="Liberation Sans,sans-serif" font-size="9" font-weight="bold" text-anchor="middle" fill="#484848" stroke="#484848" stroke-width="0.75" stroke-linejoin="round">*</text>
<text x="426.4" y="86.22" font-family="Liberation Sans,sans-serif" font-size="4.5" font-weight="bold" text-anchor="middle" fill="#1a1a1a" stroke="#1a1a1a" stroke-width="0.18">0</text>
<text x="441.1" y="86.22" font-family="Liberation Sans,sans-serif" font-size="4.5" font-weight="bold" text-anchor="middle" fill="#1a1a1a" stroke="#1a1a1a" stroke-width="0.18">200</text>
<text x="455.7" y="86.22" font-family="Liberation Sans,sans-serif" font-size="4.5" font-weight="bold" text-anchor="middle" fill="#1a1a1a" stroke="#1a1a1a" stroke-width="0.18">400</text>
<text x="470" y="86.22" font-family="Liberation Sans,sans-serif" font-size="4.5" font-weight="bold" text-anchor="middle" fill="#1a1a1a" stroke="#1a1a1a" stroke-width="0.18">600</text>
<text x="484.5" y="86.22" font-family="Liberation Sans,sans-serif" font-size="4.5" font-weight="bold" text-anchor="middle" fill="#1a1a1a" stroke="#1a1a1a" stroke-width="0.18">800</text>
<text x="498.7" y="86.22" font-family="Liberation Sans,sans-serif" font-size="4.5" font-weight="bold" text-anchor="middle" fill="#1a1a1a" stroke="#1a1a1a" stroke-width="0.18">1000</text>
<text x="513" y="86.22" font-family="Liberation Sans,sans-serif" font-size="4.5" font-weight="bold" text-anchor="middle" fill="#1a1a1a" stroke="#1a1a1a" stroke-width="0.18">1200</text>
<text x="423.3" y="39.38" font-family="Liberation Sans,sans-serif" font-size="4.4" font-weight="bold" text-anchor="end" fill="#1a1a1a" stroke="#1a1a1a" stroke-width="0.26">Diluent</text>
<text x="422.6" y="60.31" font-family="Liberation Sans,sans-serif" font-size="4.2" font-weight="bold" text-anchor="end" fill="#1a1a1a" stroke="#1a1a1a" stroke-width="0.26">IL-20</text>
<text x="457.3" y="104.6" textLength="22.80" lengthAdjust="spacingAndGlyphs" font-family="Liberation Serif,serif" font-size="8.2" fill="#1a1a1a" stroke="#1a1a1a" stroke-width="0.27">BFU-E</text>
<path d="M425.7 104.6V165.35000000000002" stroke="#a4a4a4" stroke-width="1.1" fill="none"/>
<path d="M425.15 164.8H513.7" stroke="#b0b0b0" stroke-width="1.1" fill="none"/>
<path d="M467.7 124.15H473.4M473.4 123.35V124.95" stroke="#8a8a8a" stroke-width="0.55" fill="none"/>
<rect x="425.7" y="118.05" width="41.75" height="12.20" fill="#f8f8f8"/>
<rect x="425.7" y="118.05" width="41.75" height="12.20" fill="none" stroke="#a2a2a2" stroke-width="0.6"/>
<path d="M488.6 144.05H496.9M496.9 143.25V144.85" stroke="#8a8a8a" stroke-width="0.55" fill="none"/>
<rect x="425.7" y="138.32" width="62.48" height="11.46" fill="#878787" stroke="#6e6e6e" stroke-width="0.84"/>
<text x="425.7" y="171.48" font-family="Liberation Sans,sans-serif" font-size="4.4" font-weight="bold" text-anchor="middle" fill="#1a1a1a" stroke="#1a1a1a" stroke-width="0.18">0</text>
<text x="442.8" y="171.48" font-family="Liberation Sans,sans-serif" font-size="4.4" font-weight="bold" text-anchor="middle" fill="#1a1a1a" stroke="#1a1a1a" stroke-width="0.18">2000</text>
<text x="460" y="171.48" font-family="Liberation Sans,sans-serif" font-size="4.4" font-weight="bold" text-anchor="middle" fill="#1a1a1a" stroke="#1a1a1a" stroke-width="0.18">4000</text>
<text x="477.3" y="171.48" font-family="Liberation Sans,sans-serif" font-size="4.4" font-weight="bold" text-anchor="middle" fill="#1a1a1a" stroke="#1a1a1a" stroke-width="0.18">6000</text>
<text x="494.6" y="171.48" font-family="Liberation Sans,sans-serif" font-size="4.4" font-weight="bold" text-anchor="middle" fill="#1a1a1a" stroke="#1a1a1a" stroke-width="0.18">8000</text>
<text x="511.2" y="171.48" font-family="Liberation Sans,sans-serif" font-size="4.4" font-weight="bold" text-anchor="middle" fill="#1a1a1a" stroke="#1a1a1a" stroke-width="0.18">10000</text>
<text x="422.8" y="125.75" font-family="Liberation Sans,sans-serif" font-size="4.3" font-weight="bold" text-anchor="end" fill="#1a1a1a" stroke="#1a1a1a" stroke-width="0.26">Diluent</text>
<text x="422.2" y="145.61" font-family="Liberation Sans,sans-serif" font-size="4.2" font-weight="bold" text-anchor="end" fill="#1a1a1a" stroke="#1a1a1a" stroke-width="0.26">IL-20</text>
<text x="451" y="187" textLength="29.80" lengthAdjust="spacingAndGlyphs" font-family="Liberation Serif,serif" font-size="8.2" fill="#1a1a1a" stroke="#1a1a1a" stroke-width="0.27">CFU-GM</text>
<path d="M425.3 183.4V245.45000000000002" stroke="#a4a4a4" stroke-width="1.1" fill="none"/>
<path d="M424.75 244.9H513.7" stroke="#a4a4a4" stroke-width="1.1" fill="none"/>
<path d="M496.9 203.5H500.7M500.7 202.70V204.30" stroke="#8a8a8a" stroke-width="0.55" fill="none"/>
<rect x="425.3" y="197.25" width="71.35" height="12.50" fill="#f8f8f8"/>
<rect x="425.3" y="197.25" width="71.35" height="12.50" fill="none" stroke="#a2a2a2" stroke-width="0.6"/>
<path d="M496.5 224.25H500.2M500.2 223.45V225.05" stroke="#8a8a8a" stroke-width="0.55" fill="none"/>
<rect x="425.3" y="218.52" width="70.78" height="11.46" fill="#878787" stroke="#6e6e6e" stroke-width="0.84"/>
<text x="425.3" y="251.63" font-family="Liberation Sans,sans-serif" font-size="4.25" font-weight="bold" text-anchor="middle" fill="#1a1a1a" stroke="#1a1a1a" stroke-width="0.18">0</text>
<text x="446.9" y="251.63" font-family="Liberation Sans,sans-serif" font-size="4.25" font-weight="bold" text-anchor="middle" fill="#1a1a1a" stroke="#1a1a1a" stroke-width="0.18">20000</text>
<text x="469.2" y="251.63" font-family="Liberation Sans,sans-serif" font-size="4.25" font-weight="bold" text-anchor="middle" fill="#1a1a1a" stroke="#1a1a1a" stroke-width="0.18">40000</text>
<text x="492.3" y="251.63" font-family="Liberation Sans,sans-serif" font-size="4.25" font-weight="bold" text-anchor="middle" fill="#1a1a1a" stroke="#1a1a1a" stroke-width="0.18">60000</text>
<text x="513.8" y="251.63" font-family="Liberation Sans,sans-serif" font-size="4.25" font-weight="bold" text-anchor="middle" fill="#1a1a1a" stroke="#1a1a1a" stroke-width="0.18">80000</text>
<text x="422.3" y="205.05" font-family="Liberation Sans,sans-serif" font-size="4.3" font-weight="bold" text-anchor="end" fill="#1a1a1a" stroke="#1a1a1a" stroke-width="0.26">Diluent</text>
<text x="421.8" y="225.51" font-family="Liberation Sans,sans-serif" font-size="4.2" font-weight="bold" text-anchor="end" fill="#1a1a1a" stroke="#1a1a1a" stroke-width="0.26">IL-20</text>
<text x="435.3" y="264.6" textLength="64.50" lengthAdjust="spacingAndGlyphs" font-family="Liberation Serif,serif" font-size="8" fill="#1a1a1a" stroke="#1a1a1a" stroke-width="0.27">Progenitors / Femur</text>
</g>
<g stroke="#555" stroke-width="0.43" fill="none">
<clipPath id="c1"><rect x="37.5" y="18.05" width="16.35" height="8.10"/></clipPath>
<path clip-path="url(#c1)" d="M23 17l11 11M25 17l11 11M27 17l11 11M29 17l11 11M31 17l11 11M33 17l11 11M35 17l11 11M37 17l11 11M39 17l11 11M41 17l11 11M43 17l11 11M45 17l11 11M47 17l11 11M49 17l11 11M51 17l11 11M53 17l11 11"/>
<clipPath id="c2"><rect x="37.5" y="46.55" width="49.15" height="7.70"/></clipPath>
<path clip-path="url(#c2)" d="M23 45l11 11M25 45l11 11M27 45l11 11M29 45l11 11M31 45l11 11M33 45l11 11M35 45l11 11M37 45l11 11M39 45l11 11M41 45l11 11M43 45l11 11M45 45l11 11M47 45l11 11M49 45l11 11M51 45l11 11M53 45l11 11M55 45l11 11M57 45l11 11M59 45l11 11M61 45l11 11M63 45l11 11M65 45l11 11M67 45l11 11M69 45l11 11M71 45l11 11M73 45l11 11M75 45l11 11M77 45l11 11M79 45l11 11M81 45l11 11M83 45l11 11M85 45l11 11"/>
<clipPath id="c3"><rect x="38.2" y="99.25" width="69.35" height="8.60"/></clipPath>
<path clip-path="url(#c3)" d="M24 98l11 11M26 98l11 11M28 98l11 11M30 98l11 11M32 98l11 11M34 98l11 11M36 98l11 11M38 98l11 11M40 98l11 11M42 98l11 11M44 98l11 11M46 98l11 11M48 98l11 11M50 98l11 11M52 98l11 11M54 98l11 11M56 98l11 11M58 98l11 11M60 98l11 11M62 98l11 11M64 98l11 11M66 98l11 11M68 98l11 11M70 98l11 11M72 98l11 11M74 98l11 11M76 98l11 11M78 98l11 11M80 98l11 11M82 98l11 11M84 98l11 11M86 98l11 11M88 98l11 11M90 98l11 11M92 98l11 11M94 98l11 11M96 98l11 11M98 98l11 11M100 98l11 11M102 98l11 11M104 98l11 11M106 98l11 11"/>
<clipPath id="c4"><rect x="38.2" y="127.25" width="69.35" height="8.30"/></clipPath>
<path clip-path="url(#c4)" d="M24 126l11 11M26 126l11 11M28 126l11 11M30 126l11 11M32 126l11 11M34 126l11 11M36 126l11 11M38 126l11 11M40 126l11 11M42 126l11 11M44 126l11 11M46 126l11 11M48 126l11 11M50 126l11 11M52 126l11 11M54 126l11 11M56 126l11 11M58 126l11 11M60 126l11 11M62 126l11 11M64 126l11 11M66 126l11 11M68 126l11 11M70 126l11 11M72 126l11 11M74 126l11 11M76 126l11 11M78 126l11 11M80 126l11 11M82 126l11 11M84 126l11 11M86 126l11 11M88 126l11 11M90 126l11 11M92 126l11 11M94 126l11 11M96 126l11 11M98 126l11 11M100 126l11 11M102 126l11 11M104 126l11 11M106 126l11 11"/>
<clipPath id="c5"><rect x="38.2" y="179.35" width="76.35" height="8.50"/></clipPath>
<path clip-path="url(#c5)" d="M24 178l11 11M26 178l11 11M28 178l11 11M30 178l11 11M32 178l11 11M34 178l11 11M36 178l11 11M38 178l11 11M40 178l11 11M42 178l11 11M44 178l11 11M46 178l11 11M48 178l11 11M50 178l11 11M52 178l11 11M54 178l11 11M56 178l11 11M58 178l11 11M60 178l11 11M62 178l11 11M64 178l11 11M66 178l11 11M68 178l11 11M70 178l11 11M72 178l11 11M74 178l11 11M76 178l11 11M78 178l11 11M80 178l11 11M82 178l11 11M84 178l11 11M86 178l11 11M88 178l11 11M90 178l11 11M92 178l11 11M94 178l11 11M96 178l11 11M98 178l11 11M100 178l11 11M102 178l11 11M104 178l11 11M106 178l11 11M108 178l11 11M110 178l11 11M112 178l11 11M114 178l11 11"/>
<clipPath id="c6"><rect x="38.2" y="207.65" width="38.45" height="7.90"/></clipPath>
<path clip-path="url(#c6)" d="M24 206l11 11M26 206l11 11M28 206l11 11M30 206l11 11M32 206l11 11M34 206l11 11M36 206l11 11M38 206l11 11M40 206l11 11M42 206l11 11M44 206l11 11M46 206l11 11M48 206l11 11M50 206l11 11M52 206l11 11M54 206l11 11M56 206l11 11M58 206l11 11M60 206l11 11M62 206l11 11M64 206l11 11M66 206l11 11M68 206l11 11M70 206l11 11M72 206l11 11M74 206l11 11M76 206l11 11"/>
<clipPath id="c7"><rect x="178.6" y="20.55" width="19.75" height="7.30"/></clipPath>
<path clip-path="url(#c7)" d="M165 19l10 10M167 19l10 10M169 19l10 10M171 19l10 10M173 19l10 10M175 19l10 10M177 19l10 10M179 19l10 10M181 19l10 10M183 19l10 10M185 19l10 10M187 19l10 10M189 19l10 10M191 19l10 10M193 19l10 10M195 19l10 10M197 19l10 10"/>
<clipPath id="c8"><rect x="178.6" y="47.15" width="34.05" height="8.30"/></clipPath>
<path clip-path="url(#c8)" d="M164 46l11 11M166 46l11 11M168 46l11 11M170 46l11 11M172 46l11 11M174 46l11 11M176 46l11 11M178 46l11 11M180 46l11 11M182 46l11 11M184 46l11 11M186 46l11 11M188 46l11 11M190 46l11 11M192 46l11 11M194 46l11 11M196 46l11 11M198 46l11 11M200 46l11 11M202 46l11 11M204 46l11 11M206 46l11 11M208 46l11 11M210 46l11 11M212 46l11 11"/>
<clipPath id="c9"><rect x="178.9" y="104.15" width="56.45" height="7.70"/></clipPath>
<path clip-path="url(#c9)" d="M165 103l10 10M167 103l10 10M169 103l10 10M171 103l10 10M173 103l10 10M175 103l10 10M177 103l10 10M179 103l10 10M181 103l10 10M183 103l10 10M185 103l10 10M187 103l10 10M189 103l10 10M191 103l10 10M193 103l10 10M195 103l10 10M197 103l10 10M199 103l10 10M201 103l10 10M203 103l10 10M205 103l10 10M207 103l10 10M209 103l10 10M211 103l10 10M213 103l10 10M215 103l10 10M217 103l10 10M219 103l10 10M221 103l10 10M223 103l10 10M225 103l10 10M227 103l10 10M229 103l10 10M231 103l10 10M233 103l10 10M235 103l10 10"/>
<clipPath id="c10"><rect x="178.9" y="131.35" width="69.45" height="7.90"/></clipPath>
<path clip-path="url(#c10)" d="M164 130l11 11M166 130l11 11M168 130l11 11M170 130l11 11M172 130l11 11M174 130l11 11M176 130l11 11M178 130l11 11M180 130l11 11M182 130l11 11M184 130l11 11M186 130l11 11M188 130l11 11M190 130l11 11M192 130l11 11M194 130l11 11M196 130l11 11M198 130l11 11M200 130l11 11M202 130l11 11M204 130l11 11M206 130l11 11M208 130l11 11M210 130l11 11M212 130l11 11M214 130l11 11M216 130l11 11M218 130l11 11M220 130l11 11M222 130l11 11M224 130l11 11M226 130l11 11M228 130l11 11M230 130l11 11M232 130l11 11M234 130l11 11M236 130l11 11M238 130l11 11M240 130l11 11M242 130l11 11M244 130l11 11M246 130l11 11M248 130l11 11"/>
<clipPath id="c11"><rect x="179.2" y="191.25" width="38.25" height="7.90"/></clipPath>
<path clip-path="url(#c11)" d="M166 190l11 11M168 190l11 11M170 190l11 11M172 190l11 11M174 190l11 11M176 190l11 11M178 190l11 11M180 190l11 11M182 190l11 11M184 190l11 11M186 190l11 11M188 190l11 11M190 190l11 11M192 190l11 11M194 190l11 11M196 190l11 11M198 190l11 11M200 190l11 11M202 190l11 11M204 190l11 11M206 190l11 11M208 190l11 11M210 190l11 11M212 190l11 11M214 190l11 11M216 190l11 11"/>
<clipPath id="c12"><rect x="179.2" y="217.35" width="41.35" height="7.80"/></clipPath>
<path clip-path="url(#c12)" d="M166 216l11 11M168 216l11 11M170 216l11 11M172 216l11 11M174 216l11 11M176 216l11 11M178 216l11 11M180 216l11 11M182 216l11 11M184 216l11 11M186 216l11 11M188 216l11 11M190 216l11 11M192 216l11 11M194 216l11 11M196 216l11 11M198 216l11 11M200 216l11 11M202 216l11 11M204 216l11 11M206 216l11 11M208 216l11 11M210 216l11 11M212 216l11 11M214 216l11 11M216 216l11 11M218 216l11 11M220 216l11 11"/>
<clipPath id="c13"><rect x="291.4" y="24.55" width="7.55" height="7.00"/></clipPath>
<path clip-path="url(#c13)" d="M279 23l10 10M281 23l10 10M283 23l10 10M285 23l10 10M287 23l10 10M289 23l10 10M291 23l10 10M293 23l10 10M295 23l10 10M297 23l10 10"/>
<clipPath id="c14"><rect x="291.4" y="49.65" width="3.95" height="7.30"/></clipPath>
<path clip-path="url(#c14)" d="M278 48l10 10M280 48l10 10M282 48l10 10M284 48l10 10M286 48l10 10M288 48l10 10M290 48l10 10M292 48l10 10M294 48l10 10"/>
<clipPath id="c15"><rect x="291.4" y="104.55" width="33.85" height="7.70"/></clipPath>
<path clip-path="url(#c15)" d="M277 103l11 11M279 103l11 11M281 103l11 11M283 103l11 11M285 103l11 11M287 103l11 11M289 103l11 11M291 103l11 11M293 103l11 11M295 103l11 11M297 103l11 11M299 103l11 11M301 103l11 11M303 103l11 11M305 103l11 11M307 103l11 11M309 103l11 11M311 103l11 11M313 103l11 11M315 103l11 11M317 103l11 11M319 103l11 11M321 103l11 11M323 103l11 11M325 103l11 11"/>
<clipPath id="c16"><rect x="291.4" y="131.65" width="19.35" height="8.40"/></clipPath>
<path clip-path="url(#c16)" d="M276 130l12 12M278 130l12 12M280 130l12 12M282 130l12 12M284 130l12 12M286 130l12 12M288 130l12 12M290 130l12 12M292 130l12 12M294 130l12 12M296 130l12 12M298 130l12 12M300 130l12 12M302 130l12 12M304 130l12 12M306 130l12 12M308 130l12 12M310 130l12 12"/>
<clipPath id="c17"><rect x="291.4" y="187.25" width="36.45" height="8.50"/></clipPath>
<path clip-path="url(#c17)" d="M278 186l11 11M280 186l11 11M282 186l11 11M284 186l11 11M286 186l11 11M288 186l11 11M290 186l11 11M292 186l11 11M294 186l11 11M296 186l11 11M298 186l11 11M300 186l11 11M302 186l11 11M304 186l11 11M306 186l11 11M308 186l11 11M310 186l11 11M312 186l11 11M314 186l11 11M316 186l11 11M318 186l11 11M320 186l11 11M322 186l11 11M324 186l11 11M326 186l11 11"/>
<clipPath id="c18"><rect x="291.4" y="215.65" width="8.15" height="7.50"/></clipPath>
<path clip-path="url(#c18)" d="M278 214l11 11M280 214l11 11M282 214l11 11M284 214l11 11M286 214l11 11M288 214l11 11M290 214l11 11M292 214l11 11M294 214l11 11M296 214l11 11M298 214l11 11"/>
<clipPath id="c19"><rect x="426.4" y="32.15" width="37.85" height="12.40"/></clipPath>
<path clip-path="url(#c19)" d="M409 31l15 15M411 31l15 15M413 31l15 15M415 31l15 15M417 31l15 15M419 31l15 15M421 31l15 15M423 31l15 15M425 31l15 15M427 31l15 15M429 31l15 15M431 31l15 15M433 31l15 15M435 31l15 15M437 31l15 15M439 31l15 15M441 31l15 15M443 31l15 15M445 31l15 15M447 31l15 15M449 31l15 15M451 31l15 15M453 31l15 15M455 31l15 15M457 31l15 15M459 31l15 15M461 31l15 15M463 31l15 15"/>
<clipPath id="c20"><rect x="425.7" y="118.05" width="41.75" height="12.20"/></clipPath>
<path clip-path="url(#c20)" d="M407 117l15 15M409 117l15 15M411 117l15 15M413 117l15 15M415 117l15 15M417 117l15 15M419 117l15 15M421 117l15 15M423 117l15 15M425 117l15 15M427 117l15 15M429 117l15 15M431 117l15 15M433 117l15 15M435 117l15 15M437 117l15 15M439 117l15 15M441 117l15 15M443 117l15 15M445 117l15 15M447 117l15 15M449 117l15 15M451 117l15 15M453 117l15 15M455 117l15 15M457 117l15 15M459 117l15 15M461 117l15 15M463 117l15 15M465 117l15 15M467 117l15 15"/>
<clipPath id="c21"><rect x="425.3" y="197.25" width="71.35" height="12.50"/></clipPath>
<path clip-path="url(#c21)" d="M408 196l15 15M410 196l15 15M412 196l15 15M414 196l15 15M416 196l15 15M418 196l15 15M420 196l15 15M422 196l15 15M424 196l15 15M426 196l15 15M428 196l15 15M430 196l15 15M432 196l15 15M434 196l15 15M436 196l15 15M438 196l15 15M440 196l15 15M442 196l15 15M444 196l15 15M446 196l15 15M448 196l15 15M450 196l15 15M452 196l15 15M454 196l15 15M456 196l15 15M458 196l15 15M460 196l15 15M462 196l15 15M464 196l15 15M466 196l15 15M468 196l15 15M470 196l15 15M472 196l15 15M474 196l15 15M476 196l15 15M478 196l15 15M480 196l15 15M482 196l15 15M484 196l15 15M486 196l15 15M488 196l15 15M490 196l15 15M492 196l15 15M494 196l15 15M496 196l15 15"/>
</g>
</svg>
</body></html>
